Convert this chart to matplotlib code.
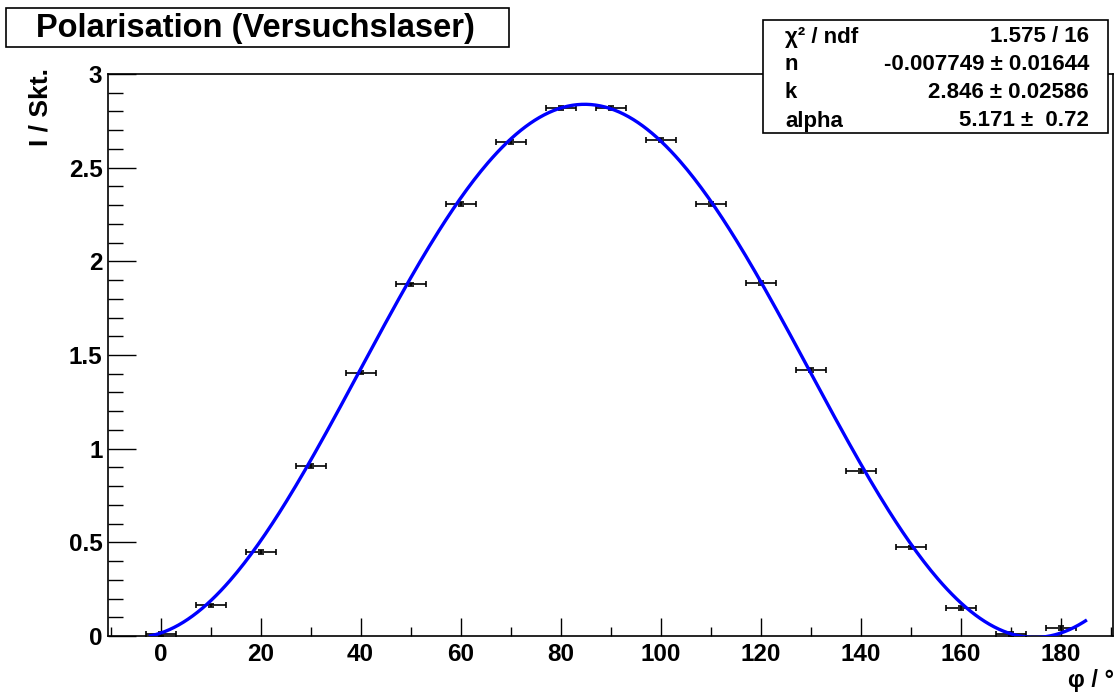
import numpy as np
import matplotlib
matplotlib.use("Agg")
import matplotlib.pyplot as plt
from matplotlib.patches import Rectangle
from matplotlib.ticker import MultipleLocator

plt.rcParams['font.family'] = ['Liberation Sans', 'DejaVu Sans']
plt.rcParams['font.weight'] = 'bold'

# measured points (angle in deg, intensity in Skt.)
phi = [0, 10, 20, 30, 40, 50, 60, 70, 80, 90, 100, 110, 120, 130, 140, 150, 160, 170, 180]
intensity = [0.01, 0.163, 0.45, 0.909, 1.406, 1.877, 2.307, 2.637, 2.817, 2.817,
             2.648, 2.305, 1.886, 1.419, 0.881, 0.473, 0.151, 0.012, 0.041]
phi_err = [3] * len(phi)
int_err = [0.01] * len(phi)

# fit result: n + k*sin^2(phi + alpha)
n_fit, k_fit, alpha_fit = -0.007749, 2.846, 5.171
fit_range = (-2, 185)

fig = plt.figure(figsize=(11.2, 6.93), dpi=100)
ax = fig.add_axes([108/1120, 1-636/693, 1005/1120, 562/693])

ax.errorbar(phi, intensity, xerr=phi_err, yerr=int_err, fmt='none', ecolor='black',
            elinewidth=1.2, capsize=2, capthick=1.2, zorder=2)

x_fit = np.linspace(fit_range[0], fit_range[1], 400)
y_fit = n_fit + k_fit * np.sin(np.radians(x_fit + alpha_fit))**2
ax.plot(x_fit, y_fit, color='#0000ff', lw=2.4, zorder=3)

ax.set_xlim(-10.5, 190.5)
ax.set_ylim(0, 3)
ax.xaxis.set_major_locator(MultipleLocator(20))
ax.xaxis.set_minor_locator(MultipleLocator(10))
ax.yaxis.set_major_locator(MultipleLocator(0.5))
ax.yaxis.set_minor_locator(MultipleLocator(0.1))
ax.yaxis.set_major_formatter(matplotlib.ticker.FuncFormatter(lambda v, p: ('%g' % v)))

ax.tick_params(axis='x', which='major', direction='in', length=13, width=1, pad=5, labelsize=17.5)
ax.tick_params(axis='x', which='minor', direction='in', length=6.5, width=1)
ax.tick_params(axis='y', which='major', direction='in', length=20, width=1, pad=4, labelsize=17.5)
ax.tick_params(axis='y', which='minor', direction='in', length=11, width=1)
for lab in ax.get_xticklabels() + ax.get_yticklabels():
    lab.set_fontweight('bold')
for s in ax.spines.values():
    s.set_linewidth(1.2)

# axis titles
fig.text(40/1120, 1-68/693, 'I / Skt.', rotation=90, ha='center', va='top',
         fontsize=19, fontweight='bold')
fig.text(1114/1120, 1-687/693, 'φ / °', ha='right', va='baseline',
         fontsize=17, fontweight='bold')

# title box
fig.add_artist(Rectangle((6/1120, 1-47/693), 503/1120, 39/693, transform=fig.transFigure,
                         facecolor='white', edgecolor='black', lw=1.2, zorder=5))
fig.text(255/1120, 1-28/693, 'Polarisation (Versuchslaser)', ha='center', va='center',
         fontsize=23.5, fontweight='bold', zorder=6)

# stats box
fig.add_artist(Rectangle((763/1120, 1-133/693), 345/1120, 113/693, transform=fig.transFigure,
                         facecolor='white', edgecolor='black', lw=1.2, zorder=5))
rows = [('χ² / ndf', '1.575 / 16'),
        ('n', '-0.007749 ± 0.01644'),
        ('k', '2.846 ± 0.02586'),
        ('alpha', '5.171 ±  0.72')]
row_y = [37, 65, 93, 121]
for (lab, val), yy in zip(rows, row_y):
    fig.text(785/1120, 1-yy/693, lab, ha='left', va='center', fontsize=16,
             fontweight='bold', zorder=6)
    fig.text(1089/1120, 1-yy/693, val, ha='right', va='center', fontsize=16,
             fontweight='bold', zorder=6)

fig.savefig('out.png', dpi=100)
